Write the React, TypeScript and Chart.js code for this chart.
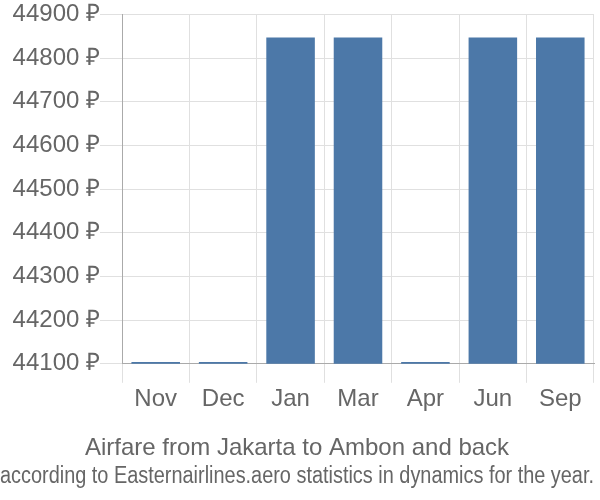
import React, { useEffect, useRef } from "react";
import { Chart, registerables } from "chart.js";

Chart.register(...registerables);

const categories = ["Nov", "Dec", "Jan", "Mar", "Apr", "Jun", "Sep"];
const prices = [44104, 44104, 44847, 44847, 44104, 44847, 44847];
const yMin = 44100;
const yMax = 44900;
const yStep = 100;
const titleText = "Airfare from Jakarta to Ambon and back";
const subtitleText = "according to Easternairlines.aero statistics in dynamics for the year.";

export default function App() {
  const ref = useRef<HTMLCanvasElement | null>(null);
  useEffect(() => {
    document.body.style.margin = "0";
    const ctx = ref.current!.getContext("2d")!;
    const chart = new Chart(ctx, {
      type: "bar",
      data: {
        labels: categories,
        datasets: [
          {
            data: prices,
            backgroundColor: "#4c78a8",
            borderWidth: 0,
          },
        ],
      },
      options: {
        animation: false,
        responsive: false,
        maintainAspectRatio: false,
        layout: { padding: { top: 5, right: 6, left: 0, bottom: 0 } },
        plugins: {
          legend: { display: false },
          tooltip: { enabled: false },
          title: {
            display: true,
            text: titleText,
            position: "bottom",
            weight: 1000,
            color: "#666",
            font: { family: "Liberation Sans", size: 24, weight: "normal" },
            padding: { top: 18, bottom: 0 },
          } as any,
          subtitle: {
            display: true,
            text: subtitleText,
            position: "bottom",
            weight: 2000,
            color: "#666",
            font: { family: "Liberation Sans", size: 23, weight: "normal" },
            padding: { top: 0, bottom: 10 },
          } as any,
        },
        scales: {
          x: {
            grid: { color: "#e0e0e0", tickLength: 19, offset: true },
            border: { color: "#aaa" },
            ticks: {
              color: "#666",
              font: { family: "Liberation Sans", size: 24 },
              padding: 2,
            },
          },
          y: {
            min: yMin,
            max: yMax,
            afterFit: (s: any) => {
              s.width = 122;
            },
            grid: { color: "#e0e0e0", tickLength: 22 },
            border: { color: "#aaa" },
            ticks: {
              stepSize: yStep,
              color: "#666",
              font: { family: "Liberation Sans", size: 24 },
              padding: 0,
              callback: (v: any) => `${v} ₽`,
            },
          },
        },
      },
    });
    return () => chart.destroy();
  }, []);
  return (
    <div style={{ width: 600, height: 500 }}>
      <canvas ref={ref} width={600} height={500} />
    </div>
  );
}
